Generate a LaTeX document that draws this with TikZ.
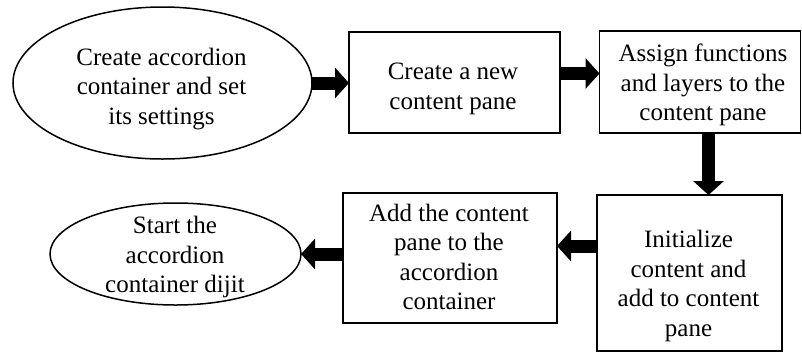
\documentclass[tikz,border=0pt]{standalone}
\usepackage{fontspec}
\setmainfont{Liberation Serif}
\usetikzlibrary{shapes.geometric,arrows.meta}
\begin{document}
\begin{tikzpicture}[x=1pt,y=-1pt,
  outline/.style={draw,line width=1.5pt,inner sep=0pt,outer sep=0pt},
  stepbox/.style={outline,rectangle},
  terminal/.style={outline,ellipse},
  caption/.style={align=center,inner sep=0pt,font=\fontsize{25}{29.5}\selectfont},
  bigarrow/.style={line width=13pt,-{Triangle[length=14pt,width=30pt]}}]
  \useasboundingbox[fill=white] (0,0) rectangle (802,354);

  % shapes of the flow
  \node[terminal,minimum width=299pt,minimum height=152pt] (e1) at (162.5,83) {};
  \node[stepbox,minimum width=211pt,minimum height=101pt] (r2) at (454.5,82.5) {};
  \node[stepbox,minimum width=201pt,minimum height=102pt] (r3) at (700,82) {};
  \node[stepbox,minimum width=185pt,minimum height=156pt] (r4) at (689.5,273) {};
  \node[stepbox,minimum width=214pt,minimum height=130pt] (r5) at (450,258) {};
  \node[terminal,minimum width=251pt,minimum height=102pt] (e6) at (175.5,254) {};

  % their texts
  \node[caption] (t1) at (161.5,89) {Create accordion\\container and set\\its settings};
  \node[caption] (t2) at (453,89) {Create a new\\content pane};
  \node[caption] (t3) at (703,85) {Assign functions\\and layers to the\\content pane};
  \node[caption] (t4) at (688.5,286) {Initialize\\content and\\add to content\\pane};
  \node[caption] (t5) at (449,257) {Add the content\\pane to the\\accordion\\container};
  \node[caption] (t6) at (175,257) {Start the\\accordion\\container dijit};

  % block arrows between the steps
  \coordinate (a2) at (0,73.5);
  \coordinate (a3) at (708.5,0);
  \coordinate (a4) at (0,246);
  \draw[bigarrow] (e1.east) -- (r2.west |- e1.east);
  \draw[bigarrow] (r2.east |- a2) -- (r3.west |- a2);
  \draw[bigarrow] (r3.south -| a3) -- (r4.north -| a3);
  \draw[bigarrow] (r4.west |- a4) -- (r5.east |- a4);
  \draw[bigarrow] (r5.west |- e6.east) -- (e6.east);
\end{tikzpicture}
\end{document}
